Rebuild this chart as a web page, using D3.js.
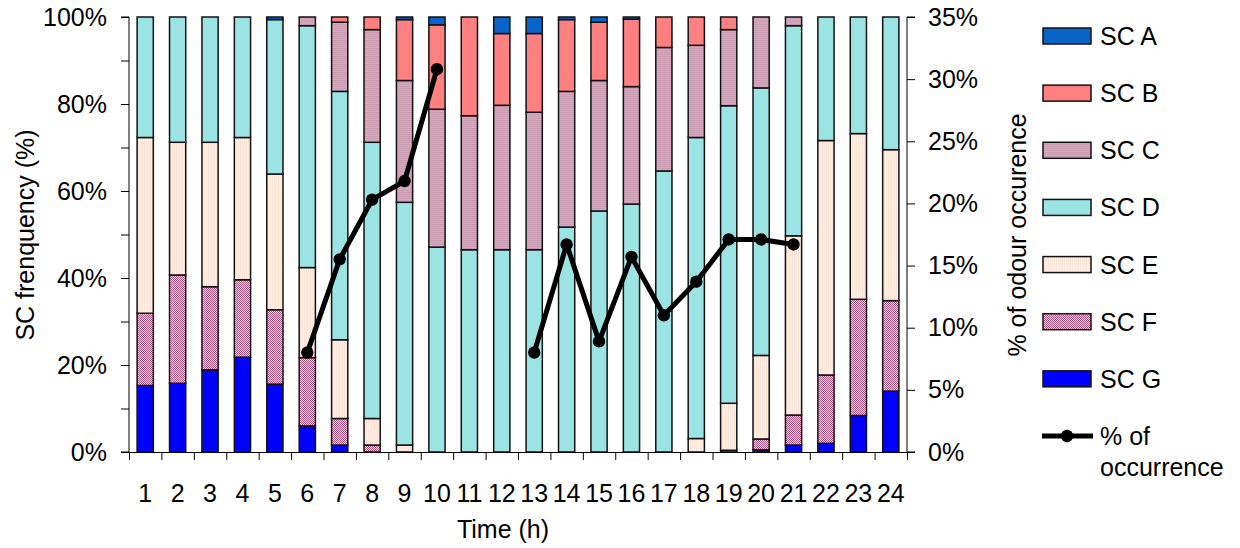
<!DOCTYPE html>
<html>
<head>
<meta charset="utf-8">
<script src="https://cdn.jsdelivr.net/npm/d3@7"></script>
<style>
  html, body { margin: 0; padding: 0; background: #fff; }
  svg { display: block; font-family: "Liberation Sans", Arial, sans-serif; }
</style>
</head>
<body>
<svg id="chart" width="1240" height="548"></svg>
<script>
// Hours of the day
const hours = [1,2,3,4,5,6,7,8,9,10,11,12,13,14,15,16,17,18,19,20,21,22,23,24];

// SC frequency per hour (%), one array per class
const scA = [0,0,0,0,0.6,0,0,0,0.6,1.8,0,3.8,3.8,0.6,1.2,0.5,0,0,0,0,0,0,0,0];
const scB = [0,0,0,0,0,0,1.2,2.9,14.0,19.4,22.7,16.5,18.1,16.5,13.4,15.5,7.0,6.5,2.9,0,0,0,0,0];
const scC = [0,0,0,0,0,2.0,15.9,25.9,28.0,31.7,30.8,33.2,31.6,31.2,30.0,27.0,28.4,21.2,17.5,16.3,2.0,0,0,0];
const scD = [27.7,28.8,28.8,27.7,35.5,55.6,57.1,63.5,55.8,47.1,46.5,46.5,46.5,51.7,55.4,57.0,64.6,69.2,68.4,61.5,48.3,28.4,26.8,30.5];
const scE = [40.4,30.5,33.2,32.7,31.2,20.7,18.1,6.1,1.6,0,0,0,0,0,0,0,0,3.1,10.8,19.2,41.2,53.9,38.1,34.7];
const scF = [16.6,24.9,19.1,17.8,17.1,15.7,6.1,1.6,0,0,0,0,0,0,0,0,0,0,0.4,2.5,6.9,15.7,26.7,20.8];
const scG = [15.3,15.8,18.9,21.8,15.6,6.0,1.6,0,0,0,0,0,0,0,0,0,0,0,0,0.5,1.6,2.0,8.4,14.0];

// % of odour occurrence (null = not recorded)
const odour = [null,null,null,null,null,8.0,15.5,20.3,21.8,30.8,null,null,8.0,16.7,8.9,15.7,11.0,13.7,17.1,17.1,16.7,null,null,null];

// Axis tick values
const leftTicks = [0,10,20,30,40,50,60,70,80,90,100];
const rightTicks = [0,5,10,15,20,25,30,35];

const seriesNames = ["SC G","SC F","SC E","SC D","SC C","SC B","SC A"];
const seriesValues = [scG, scF, scE, scD, scC, scB, scA];

const svg = d3.select("#chart");
const defs = svg.append("defs");

// Fill patterns
const pC = defs.append("pattern").attr("id","patC").attr("patternUnits","userSpaceOnUse").attr("width",2).attr("height",2);
pC.append("rect").attr("width",2).attr("height",2).attr("fill","#d6a7bd");
pC.append("rect").attr("width",2).attr("height",1).attr("fill","#cc9cb3");

const pE = defs.append("pattern").attr("id","patE").attr("patternUnits","userSpaceOnUse").attr("width",2).attr("height",2);
pE.append("rect").attr("width",2).attr("height",2).attr("fill","#fff0e7");
pE.append("rect").attr("width",1).attr("height",2).attr("fill","#fbe4d8");

const pF = defs.append("pattern").attr("id","patF").attr("patternUnits","userSpaceOnUse").attr("width",2).attr("height",2);
pF.append("rect").attr("width",2).attr("height",2).attr("fill","#f4dbe6");
pF.append("rect").attr("x",0).attr("y",0).attr("width",1).attr("height",1).attr("fill","#b8507e");
pF.append("rect").attr("x",1).attr("y",1).attr("width",1).attr("height",1).attr("fill","#b8507e");

const fills = {
  "SC A": "#0a64c8",
  "SC B": "#ff8080",
  "SC C": "url(#patC)",
  "SC D": "#9ce4e4",
  "SC E": "url(#patE)",
  "SC F": "url(#patF)",
  "SC G": "#0000ff"
};

const plot = { left: 129, right: 907, top: 17, bottom: 452 };

const x = d3.scaleBand().domain(hours).range([plot.left, plot.right]).paddingInner(0.5).paddingOuter(0.25);
const xEdge = d3.scaleLinear().domain([0, hours.length]).range([plot.left, plot.right]);
const yL = d3.scaleLinear().domain([0, 100]).range([plot.bottom, plot.top]);
const yR = d3.scaleLinear().domain([0, 35]).range([plot.bottom, plot.top]);

// Stack table built from the series arrays
const table = hours.map((h, i) => {
  const row = { hour: h };
  seriesNames.forEach((n, k) => { row[n] = seriesValues[k][i]; });
  return row;
});
const stack = d3.stack().keys(seriesNames)(table);

const layers = svg.append("g").selectAll("g").data(stack).join("g")
  .attr("fill", d => fills[d.key]);
layers.selectAll("rect").data(d => d.filter(s => s[1] - s[0] > 0)).join("rect")
  .attr("x", d => x(d.data.hour))
  .attr("width", x.bandwidth())
  .attr("y", d => yL(d[1]))
  .attr("height", d => yL(d[0]) - yL(d[1]))
  .attr("stroke", "#111")
  .attr("stroke-width", 1.5);

// Axes
const fontSize = "25px";

const leftAxis = svg.append("g").attr("transform", `translate(${plot.left},0)`)
  .call(d3.axisLeft(yL).tickValues(leftTicks).tickSize(8).tickPadding(14)
    .tickFormat(d => d % 20 === 0 ? d + "%" : ""));
const rightAxis = svg.append("g").attr("transform", `translate(${plot.right},0)`)
  .call(d3.axisRight(yR).tickValues(rightTicks).tickSize(8).tickPadding(13)
    .tickFormat(d => d + "%"));
const bottomTicks = svg.append("g").attr("transform", `translate(0,${plot.bottom})`)
  .call(d3.axisBottom(xEdge).tickValues(d3.range(0, hours.length + 1)).tickSize(8).tickFormat(""));
const bottomLabels = svg.append("g").attr("transform", `translate(0,${plot.bottom})`)
  .call(d3.axisBottom(x).tickSize(0).tickPadding(32));
bottomLabels.select(".domain").remove();

[leftAxis, rightAxis, bottomTicks, bottomLabels].forEach(g => {
  g.selectAll("text").attr("font-size", fontSize).attr("font-family", "Liberation Sans, Arial, sans-serif").attr("fill", "#000");
  g.selectAll("line").attr("stroke", "#000");
  g.selectAll(".domain").attr("stroke", "#000");
});
leftAxis.select(".domain").attr("d", `M-8,${plot.top}H0V${plot.bottom}H-8`);
rightAxis.select(".domain").attr("d", `M8,${plot.top}H0V${plot.bottom}H8`);

// Axis titles
svg.append("text").attr("transform", "translate(34,235) rotate(-90)")
  .attr("text-anchor", "middle").attr("font-size", fontSize).text("SC frenquency (%)");
svg.append("text").attr("transform", "translate(1026,235) rotate(-90)")
  .attr("text-anchor", "middle").attr("font-size", fontSize).text("% of odour occurence");
svg.append("text").attr("x", 503).attr("y", 538)
  .attr("text-anchor", "middle").attr("font-size", fontSize).text("Time (h)");

// Odour occurrence line
const cx = h => x(h) + x.bandwidth() / 2;
const pts = hours.map((h, i) => ({ hour: h, v: odour[i] }));
const line = d3.line().defined(d => d.v !== null).x(d => cx(d.hour)).y(d => yR(d.v));
svg.append("path").datum(pts).attr("d", line)
  .attr("fill", "none").attr("stroke", "#000").attr("stroke-width", 5).attr("stroke-linejoin", "round");
svg.append("g").selectAll("circle").data(pts.filter(d => d.v !== null)).join("circle")
  .attr("cx", d => cx(d.hour)).attr("cy", d => yR(d.v)).attr("r", 6.2).attr("fill", "#000");

// Legend
const legendOrder = ["SC A","SC B","SC C","SC D","SC E","SC F","SC G"];
const rowY = d3.scaleLinear().domain([0, 7]).range([36, 436]);
const legend = svg.append("g");
legendOrder.forEach((name, i) => {
  const cy = rowY(i);
  legend.append("rect").attr("x", 1043).attr("y", cy - 8).attr("width", 48).attr("height", 16)
    .attr("fill", fills[name]).attr("stroke", "#111").attr("stroke-width", 1.5);
  legend.append("text").attr("x", 1100).attr("y", cy).attr("dy", "0.36em")
    .attr("font-size", fontSize).text(name);
});
const ly = rowY(7);
legend.append("line").attr("x1", 1042).attr("x2", 1093).attr("y1", ly).attr("y2", ly)
  .attr("stroke", "#000").attr("stroke-width", 5);
legend.append("circle").attr("cx", 1067).attr("cy", ly).attr("r", 6.2).attr("fill", "#000");
legend.append("text").attr("x", 1100).attr("y", ly).attr("dy", "0.36em").attr("font-size", fontSize).text("% of");
legend.append("text").attr("x", 1100).attr("y", ly + 31).attr("dy", "0.36em").attr("font-size", fontSize).text("occurrence");
</script>
</body>
</html>
